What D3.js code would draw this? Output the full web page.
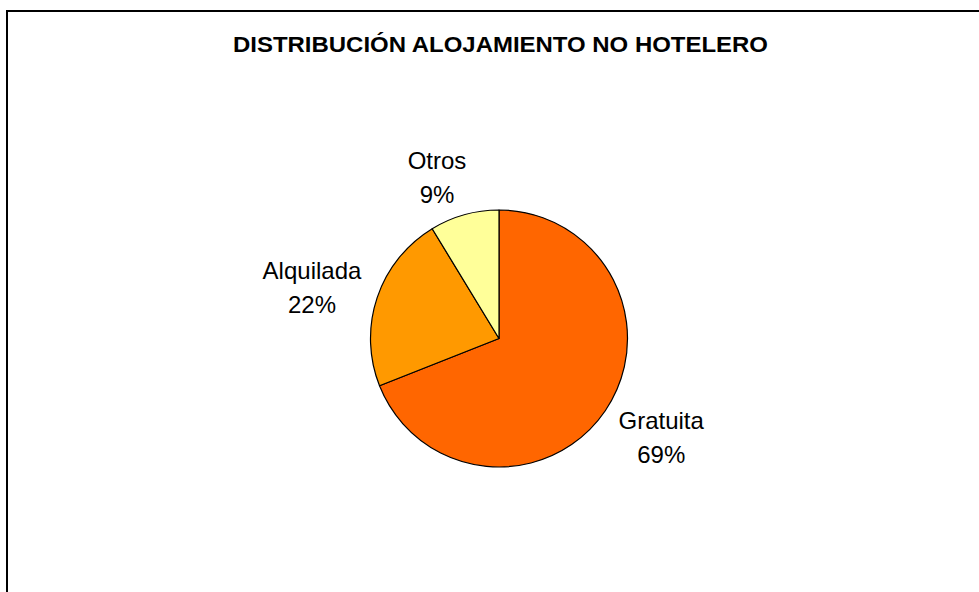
<!DOCTYPE html>
<html>
<head>
<meta charset="utf-8">
<script src="https://cdn.jsdelivr.net/npm/d3@7"></script>
<style>
  html, body { margin: 0; padding: 0; background: #fff; }
  svg { display: block; }
</style>
</head>
<body>
<svg id="chart" width="979" height="592"></svg>
<script>
const title = "DISTRIBUCIÓN ALOJAMIENTO NO HOTELERO";
const categories = ["Gratuita", "Alquilada", "Otros"];
const values = [69.0, 22.3, 8.7];
const percentLabels = ["69%", "22%", "9%"];
const colors = ["#FF6600", "#FF9900", "#FFFF99"];

const W = 979, H = 592;
const svg = d3.select("#chart");
const font = "'Liberation Sans', Arial, sans-serif";

// outer frame (extends past the right and bottom edges)
svg.append("rect")
  .attr("x", 7).attr("y", 11)
  .attr("width", 1000).attr("height", 620)
  .attr("fill", "#fff")
  .attr("stroke", "#000").attr("stroke-width", 2);

// title
svg.append("text")
  .attr("x", 500.5).attr("y", 52)
  .attr("text-anchor", "middle")
  .attr("font-family", font)
  .attr("font-weight", "bold")
  .attr("font-size", 22)
  .attr("textLength", 535)
  .attr("lengthAdjust", "spacingAndGlyphs")
  .attr("fill", "#000")
  .text(title);

const cx = 499, cy = 338.5, r = 128.5;
const data = categories.map((c, i) => ({ name: c, value: values[i], pct: percentLabels[i], color: colors[i] }));

const pie = d3.pie().value(d => d.value).sort(null).startAngle(0).endAngle(2 * Math.PI);
const arcs = pie(data);
const arc = d3.arc().innerRadius(0).outerRadius(r);

const g = svg.append("g").attr("transform", `translate(${cx},${cy})`);
g.selectAll("path.slice")
  .data(arcs)
  .enter().append("path")
  .attr("class", "slice")
  .attr("d", arc)
  .attr("fill", d => d.data.color)
  .attr("stroke", "#000")
  .attr("stroke-width", 1.2)
  .attr("stroke-linejoin", "round");

// labels outside the pie
const gap = 16;
const labelArc = d3.arc().innerRadius(r + gap).outerRadius(r + gap);
const lineH = 34;
const fs = 24;

arcs.forEach(d => {
  const mid = (d.startAngle + d.endAngle) / 2;
  const [ax, ay] = labelArc.centroid(d);
  const t = g.append("text")
    .attr("font-family", font)
    .attr("font-size", fs)
    .attr("fill", "#000")
    .attr("text-anchor", "middle");
  t.append("tspan").attr("x", 0).attr("dy", 0).text(d.data.name);
  t.append("tspan").attr("x", 0).attr("dy", lineH).text(d.data.pct);
  const bb = t.node().getBBox();
  const w = bb.width, h = bb.height;
  const sx = Math.max(-1, Math.min(1, Math.sin(mid) * 2.9));
  const sy = -Math.cos(mid) * 0.85;
  const bcx = ax + sx * w / 2;
  const bcy = ay + sy * h / 2 + 3;
  const curCx = bb.x + w / 2, curCy = bb.y + h / 2;
  t.attr("transform", `translate(${bcx - curCx},${bcy - curCy})`);
});
</script>
</body>
</html>
